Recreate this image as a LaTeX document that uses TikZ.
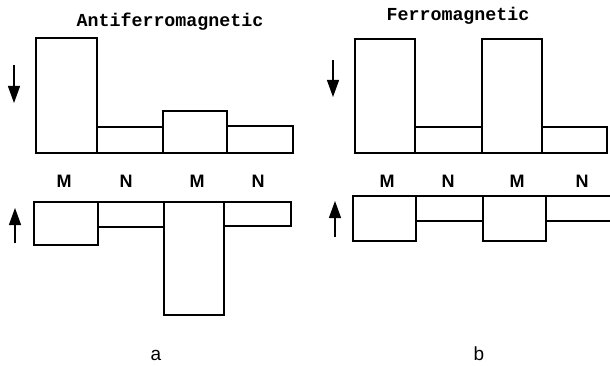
\documentclass[tikz,border=0pt]{standalone}
\usepackage{fontspec}
\setmainfont{Liberation Sans}
\newfontfamily\typefont{Liberation Mono}
\usetikzlibrary{arrows.meta}

\begin{document}
\begin{tikzpicture}[
    x=1pt, y=-1pt,
    bar/.style={draw, line width=1.5pt, line join=miter},
    spin/.style={-{Triangle[length=17pt, width=12pt]}, line width=1.2pt},
    title/.style={font=\typefont\bfseries\fontsize{18.3}{20}\selectfont},
    site/.style={font=\bfseries\fontsize{18}{20}\selectfont},
    caption/.style={font=\fontsize{19}{21}\selectfont}
]
\useasboundingbox (0,0) rectangle (610,366);

% panel a
\node[title] (atitle) at (170,22) {Antiferromagnetic};
\draw[bar] (36,38) rectangle (97,153);
\draw[bar] (97,127) rectangle (163,153);
\draw[bar] (163,111) rectangle (227,153);
\draw[bar] (227,126) rectangle (293,153);

\draw[bar] (34,202) rectangle (98,245);
\draw[bar] (98,202) rectangle (164,227);
\draw[bar] (164,202) rectangle (224,315);
\draw[bar] (224,202) rectangle (291,226);

\coordinate (adtail) at (14,65);
\coordinate (adhead) at (14,103);
\coordinate (autail) at (15,243);
\coordinate (auhead) at (15,208);
\draw[spin] (adtail) -- (adhead);
\draw[spin] (autail) -- (auhead);

\node[site] (am1) at (64,181) {M};
\node[site] (an1) at (126,181) {N};
\node[site] (am2) at (197,181) {M};
\node[site] (an2) at (258,181) {N};
\node[caption] (acap) at (156,355) {a};

% panel b
\node[title] (btitle) at (458,16) {Ferromagnetic};
\draw[bar] (355,39) rectangle (415,153);
\draw[bar] (415,127) rectangle (482,153);
\draw[bar] (482,39) rectangle (542,153);
\draw[bar] (542,127) rectangle (607,153);

\draw[bar] (353,196) rectangle (416,241);
\draw[bar] (416,196) rectangle (483,221);
\draw[bar] (483,196) rectangle (546,241);
\draw[bar] (610,196) -- (546,196) -- (546,221) -- (610,221);

\coordinate (bdtail) at (333,60);
\coordinate (bdhead) at (333,97);
\coordinate (butail) at (335,237);
\coordinate (buhead) at (335,201);
\draw[spin] (bdtail) -- (bdhead);
\draw[spin] (butail) -- (buhead);

\node[site] (bm1) at (387,181) {M};
\node[site] (bn1) at (448,181) {N};
\node[site] (bm2) at (517,181) {M};
\node[site] (bn2) at (582,181) {N};
\node[caption] (bcap) at (479,354) {b};
\end{tikzpicture}
\end{document}
